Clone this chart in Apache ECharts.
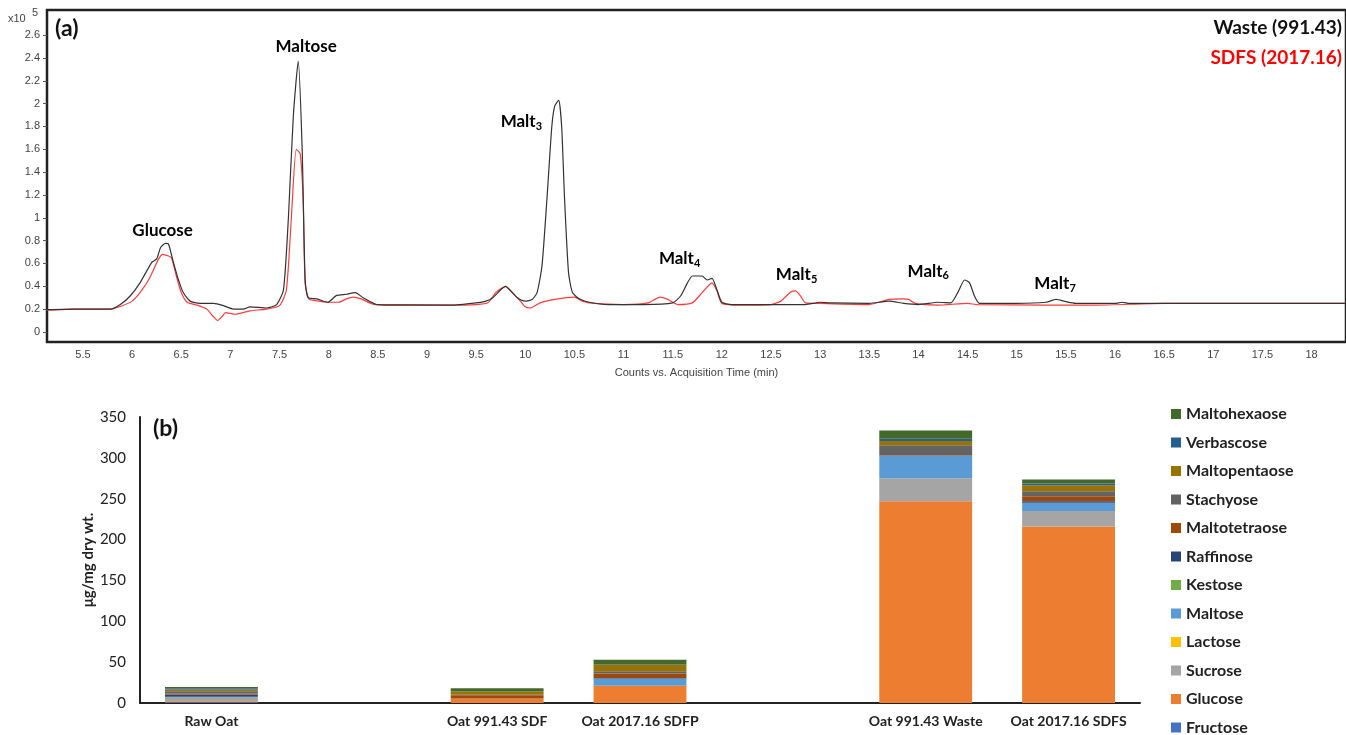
<!DOCTYPE html>
<html><head><meta charset="utf-8">
<script src="https://cdn.jsdelivr.net/npm/echarts@6/dist/echarts.min.js"></script>
<style>html,body{margin:0;padding:0;background:#fff}#c{width:1346px;height:735px}</style>
</head><body><div id="c"></div>
<script>
// ---------- (a) chromatogram ----------
const timeTicks = [5.5,6,6.5,7,7.5,8,8.5,9,9.5,10,10.5,11,11.5,12,12.5,13,13.5,14,14.5,15,15.5,16,16.5,17,17.5,18];
const countTicks = [0,0.2,0.4,0.6,0.8,1,1.2,1.4,1.6,1.8,2,2.2,2.4,2.6];

const wasteTrace = [[5.13,0.195],[5.4,0.2],[5.78,0.2],[5.88,0.24],[5.98,0.315],[6.08,0.43],[6.2,0.61],[6.25,0.64],[6.29,0.74],[6.34,0.775],[6.37,0.77],[6.42,0.61],[6.47,0.46],[6.52,0.345],[6.59,0.27],[6.69,0.25],[6.83,0.25],[6.93,0.23],[7.03,0.2],[7.13,0.2],[7.2,0.22],[7.37,0.21],[7.47,0.24],[7.54,0.37],[7.59,1.0],[7.64,1.89],[7.69,2.37],[7.73,1.6],[7.76,0.46],[7.79,0.3],[7.88,0.29],[7.99,0.26],[8.08,0.32],[8.18,0.33],[8.27,0.345],[8.35,0.3],[8.49,0.24],[8.73,0.235],[9.24,0.235],[9.5,0.255],[9.6,0.27],[9.67,0.3],[9.75,0.37],[9.8,0.4],[9.85,0.36],[9.92,0.3],[10.0,0.27],[10.07,0.285],[10.12,0.345],[10.17,0.58],[10.22,1.16],[10.27,1.8],[10.3,1.98],[10.34,2.03],[10.37,1.8],[10.4,1.16],[10.44,0.52],[10.48,0.345],[10.55,0.29],[10.65,0.26],[10.85,0.24],[11.2,0.24],[11.5,0.255],[11.58,0.315],[11.65,0.43],[11.7,0.49],[11.8,0.49],[11.85,0.455],[11.9,0.47],[11.95,0.37],[12.0,0.26],[12.1,0.24],[12.5,0.24],[12.85,0.24],[13.0,0.26],[13.1,0.255],[13.5,0.25],[13.7,0.27],[13.85,0.25],[14.0,0.24],[14.2,0.26],[14.33,0.255],[14.4,0.345],[14.47,0.455],[14.52,0.43],[14.57,0.315],[14.62,0.25],[15.0,0.25],[15.3,0.26],[15.4,0.285],[15.5,0.265],[15.6,0.25],[16.0,0.25],[16.07,0.26],[16.15,0.25],[17.0,0.25],[18.35,0.25]];

const sdfsTrace = [[5.13,0.19],[5.4,0.2],[5.78,0.2],[5.9,0.23],[6.0,0.27],[6.08,0.345],[6.17,0.46],[6.27,0.64],[6.31,0.68],[6.37,0.665],[6.4,0.65],[6.45,0.49],[6.5,0.345],[6.56,0.26],[6.66,0.235],[6.76,0.2],[6.82,0.14],[6.87,0.1],[6.92,0.14],[6.95,0.17],[7.05,0.155],[7.2,0.185],[7.37,0.2],[7.5,0.23],[7.57,0.37],[7.62,1.0],[7.67,1.6],[7.71,1.56],[7.74,1.16],[7.76,0.43],[7.8,0.29],[7.9,0.27],[8.0,0.26],[8.1,0.26],[8.18,0.29],[8.25,0.305],[8.33,0.29],[8.47,0.24],[8.73,0.24],[9.24,0.235],[9.5,0.24],[9.62,0.255],[9.7,0.345],[9.8,0.4],[9.87,0.345],[9.95,0.27],[10.0,0.22],[10.05,0.21],[10.15,0.255],[10.3,0.285],[10.5,0.305],[10.58,0.27],[10.7,0.25],[11.0,0.24],[11.25,0.255],[11.37,0.305],[11.45,0.285],[11.55,0.24],[11.7,0.255],[11.8,0.345],[11.9,0.43],[11.95,0.36],[12.0,0.25],[12.2,0.235],[12.5,0.24],[12.6,0.27],[12.7,0.35],[12.75,0.36],[12.8,0.315],[12.85,0.255],[13.0,0.25],[13.5,0.24],[13.7,0.285],[13.85,0.29],[13.9,0.285],[13.97,0.25],[14.2,0.235],[14.5,0.25],[14.6,0.24],[15.3,0.235],[15.8,0.235],[16.5,0.25],[17.5,0.25],[18.35,0.25]];

// peak annotations: [name, subscript, time, counts]
const peakLabels = [['Glucose','',6.31,0.89],['Maltose','',7.77,2.5],['Malt','3',9.96,1.84],['Malt','4',11.57,0.64],['Malt','5',12.76,0.5],['Malt','6',14.1,0.53],['Malt','7',15.39,0.42]];

// ---------- (b) stacked bars ----------
const categories = ['Raw Oat',' ','Oat 991.43 SDF','Oat 2017.16 SDFP','  ','Oat 991.43 Waste','Oat 2017.16 SDFS'];
const sugarNames = ['Fructose','Glucose','Sucrose','Lactose','Maltose','Kestose','Raffinose','Maltotetraose','Stachyose','Maltopentaose','Verbascose','Maltohexaose'];
const sugarColors = ['#4472C4','#ED7D31','#A5A5A5','#FFC000','#5B9BD5','#70AD47','#264478','#9E480E','#636363','#997300','#255E91','#43682B'];
const fructose      = [1,   null, 0,   0,   null, 0,    0];
const glucose       = [1,   null, 5.5, 21,  null, 247,  216];
const sucrose       = [4,   null, 0,   0,   null, 28,   19];
const lactose       = [0,   null, 0,   0,   null, 0,    0];
const maltose       = [1,   null, 0,   9,   null, 27.5, 10];
const kestose       = [0.5, null, 0,   0,   null, 0,    0];
const raffinose     = [3,   null, 0,   0.5, null, 0.5,  2];
const maltotetraose = [1,   null, 4,   5.5, null, 0.5,  6];
const stachyose     = [3,   null, 0.5, 3,   null, 12,   6];
const maltopentaose = [2,   null, 4,   7.5, null, 5,    7.5];
const verbascose    = [1.5, null, 0,   0.5, null, 3,    2];
const maltohexaose  = [1.5, null, 4,   6,   null, 10,   5];
const sugarValues = [fructose,glucose,sucrose,lactose,maltose,kestose,raffinose,maltotetraose,stachyose,maltopentaose,verbascose,maltohexaose];

const chart = echarts.init(document.getElementById('c'));
const FONT = 'Lato';
const tickFont = {color:'#444', fontSize:11, fontFamily:'Liberation Sans'};

const barSeries = sugarNames.map((n,i)=>({
  name:n, type:'bar', stack:'total', xAxisIndex:1, yAxisIndex:1,
  barWidth:'65%', itemStyle:{color:sugarColors[i]}, data:sugarValues[i]
}));

chart.setOption({
  animation:false,
  grid:[
    {left:47, top:10, right:-3, bottom:393, show:true, borderColor:'#222', borderWidth:2.5, backgroundColor:'transparent'},
    {left:140, top:417, right:206, bottom:32}
  ],
  xAxis:[
    {type:'value', gridIndex:0, min:5.134, max:18.35,
     axisLine:{show:false, onZero:false}, splitLine:{show:false},
     axisTick:{show:false},
     axisLabel:Object.assign({customValues:timeTicks, margin:7}, tickFont),
     name:'Counts vs. Acquisition Time (min)', nameLocation:'middle', nameGap:25,
     nameTextStyle:{color:'#444', fontSize:11, fontFamily:'Liberation Sans'}},
    {type:'category', gridIndex:1, data:categories,
     axisLine:{lineStyle:{color:'#222', width:2}}, axisTick:{show:false},
     axisLabel:{fontFamily:FONT, fontSize:14, fontWeight:'bold', color:'#222', margin:11, interval:0}}
  ],
  yAxis:[
    {type:'value', gridIndex:0, min:-0.088, max:2.82,
     axisLine:{show:false, onZero:false}, splitLine:{show:false},
     axisTick:{show:true, customValues:countTicks, length:4, lineStyle:{color:'#555'}},
     axisLabel:Object.assign({customValues:countTicks, margin:7}, tickFont)},
    {type:'value', gridIndex:1, min:0, max:350, interval:50,
     axisLine:{show:true, lineStyle:{color:'#222', width:2}}, axisTick:{show:false}, splitLine:{show:false},
     axisLabel:{fontFamily:FONT, fontSize:15, color:'#222', margin:14},
     name:'μg/mg dry wt.', nameLocation:'middle', nameGap:44, nameMoveOverlap:false,
     nameTextStyle:{fontFamily:FONT, fontSize:15, fontWeight:'bold', color:'#222'}}
  ],
  legend:{orient:'vertical', left:1166, top:401, height:335, itemWidth:10, itemHeight:10, itemGap:12.5, icon:'rect',
    data:sugarNames.slice().reverse(),
    textStyle:{fontFamily:FONT, fontSize:16, fontWeight:'bold', color:'#222', lineHeight:16}},
  graphic:[
    {type:'text', left:55, top:17, style:{text:'(a)', font:'bold 23px Lato', fill:'#111'}},
    {type:'text', left:153, top:417, style:{text:'(b)', font:'bold 23px Lato', fill:'#111'}},
    {type:'text', left:8, top:13, style:{text:'x10', font:'11px "Liberation Sans"', fill:'#444'}},
    {type:'text', left:32, top:7, style:{text:'5', font:'11px "Liberation Sans"', fill:'#444'}},
    {type:'text', right:4, top:18, style:{text:'Waste (991.43)', font:'bold 19px Lato', fill:'#111'}},
    {type:'text', right:4, top:48, style:{text:'SDFS (2017.16)', font:'bold 19px Lato', fill:'#f00'}}
  ],
  series:[
    {name:'SDFS (2017.16)', type:'line', xAxisIndex:0, yAxisIndex:0, data:sdfsTrace, showSymbol:false,
     lineStyle:{color:'#ff3b3b', width:1.2}, smooth:0.2, z:2},
    {name:'Waste (991.43)', type:'line', xAxisIndex:0, yAxisIndex:0, data:wasteTrace, showSymbol:false,
     lineStyle:{color:'#333', width:1.2}, smooth:0.2, z:3},
    {name:'peaks', type:'scatter', xAxisIndex:0, yAxisIndex:0, symbolSize:0, silent:true, z:5,
     data:peakLabels.map(p=>({value:[p[2],p[3]], name:p[0], sub:p[1]})),
     label:{show:true, position:'inside', color:'#000', textBorderWidth:0, textBorderColor:'transparent', opacity:1,
       formatter:p=>p.data.sub ? '{b|'+p.data.name+'}{s|'+p.data.sub+'}' : '{b|'+p.data.name+'}',
       rich:{b:{fontFamily:FONT, fontSize:17, fontWeight:'bold', color:'#000', lineHeight:20, textBorderWidth:0},
             s:{fontFamily:FONT, fontSize:11, fontWeight:'bold', color:'#000', lineHeight:10, verticalAlign:'bottom', textBorderWidth:0}}}}
  ].concat(barSeries)
});
</script></body></html>
